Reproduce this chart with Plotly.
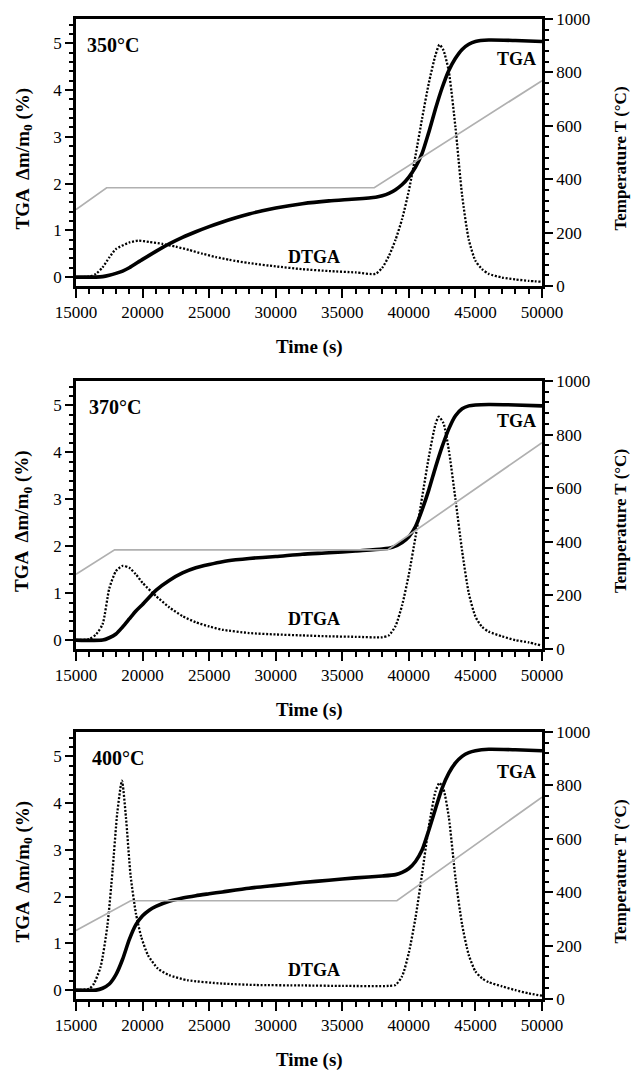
import plotly.graph_objects as go

# ---------------- data ----------------
panel_labels = ["350°C", "370°C", "400°C"]

p1_tga_t = [15000, 16500, 17000, 17500, 18000, 18500, 19000, 20000, 21000, 22000, 23000, 24000, 25000, 26000, 27000, 28000, 29000, 30000, 32000, 34000, 36000, 37500, 38000, 38500, 39000, 39500, 40000, 40500, 41000, 41500, 42000, 42500, 43000, 43500, 44000, 44500, 45000, 46000, 48000, 50000]
p1_tga_v = [0.0, 0.0, 0.01, 0.04, 0.08, 0.13, 0.2, 0.38, 0.55, 0.71, 0.85, 0.97, 1.08, 1.18, 1.27, 1.35, 1.42, 1.48, 1.57, 1.63, 1.67, 1.71, 1.74, 1.79, 1.87, 1.98, 2.14, 2.35, 2.65, 3.1, 3.6, 4.05, 4.42, 4.68, 4.87, 4.98, 5.04, 5.07, 5.06, 5.04]
p1_dtga_t = [15000, 16000, 16500, 17000, 17500, 18000, 19000, 19700, 20500, 21500, 22500, 23500, 24500, 25500, 26500, 28000, 30000, 32000, 34000, 36000, 37500, 38000, 38500, 39000, 39500, 40000, 40500, 41000, 41500, 42000, 42300, 42600, 43000, 43500, 44000, 44500, 45000, 45500, 46000, 47000, 48000, 49000, 50000]
p1_dtga_v = [0.0, 0.01, 0.07, 0.21, 0.42, 0.6, 0.74, 0.78, 0.75, 0.71, 0.65, 0.58, 0.5, 0.43, 0.37, 0.3, 0.23, 0.17, 0.13, 0.1, 0.07, 0.2, 0.45, 0.8, 1.25, 1.85, 2.6, 3.4, 4.15, 4.75, 4.97, 4.85, 4.4, 3.2, 1.75, 0.8, 0.35, 0.17, 0.07, -0.01, -0.05, -0.08, -0.1]
p1_temp_t = [15000, 17300, 37400, 50000]
p1_temp_v = [286, 368, 368, 769]

p2_tga_t = [15000, 17000, 17500, 18000, 18500, 19000, 19500, 20000, 21000, 22000, 23000, 24000, 25000, 26000, 27000, 28000, 30000, 32000, 34000, 36000, 38000, 38800, 39500, 40000, 40500, 41000, 41500, 42000, 42500, 43000, 43500, 44000, 44500, 45000, 46000, 48000, 50000]
p2_tga_v = [0.0, 0.0, 0.05, 0.13, 0.28, 0.45, 0.62, 0.76, 1.06, 1.27, 1.43, 1.54, 1.61, 1.67, 1.71, 1.74, 1.78, 1.83, 1.86, 1.9, 1.94, 1.98, 2.08, 2.2, 2.42, 2.78, 3.2, 3.68, 4.12, 4.5, 4.78, 4.93, 4.99, 5.01, 5.02, 5.01, 4.99]
p2_dtga_t = [15000, 16000, 16500, 17000, 17500, 18000, 18500, 19000, 19500, 20000, 21000, 22000, 23000, 24000, 25000, 26000, 28000, 30000, 32000, 34000, 36000, 38000, 38500, 39000, 39500, 40000, 40500, 41000, 41500, 42000, 42250, 42600, 43000, 43500, 44000, 44500, 45000, 45500, 46000, 47000, 48000, 49000, 50000]
p2_dtga_v = [0.0, 0.02, 0.12, 0.34, 1.1, 1.47, 1.58, 1.54, 1.4, 1.22, 0.94, 0.7, 0.51, 0.38, 0.29, 0.22, 0.15, 0.12, 0.1, 0.08, 0.07, 0.06, 0.1, 0.3, 0.75, 1.4, 2.2, 3.05, 3.9, 4.6, 4.76, 4.62, 4.05, 3.0, 1.9, 1.0, 0.5, 0.28, 0.18, 0.08, 0.0, -0.05, -0.12]
p2_temp_t = [15000, 17900, 38400, 50000]
p2_temp_v = [279, 370, 370, 770]

p3_tga_t = [15000, 16500, 17000, 17500, 18000, 18500, 19000, 19500, 20000, 20500, 21000, 22000, 23000, 24000, 25000, 26000, 28000, 30000, 32000, 34000, 36000, 38000, 39000, 39500, 40000, 40500, 41000, 41500, 42000, 42500, 43000, 43500, 44000, 44500, 45000, 46000, 48000, 50000]
p3_tga_v = [0.0, 0.0, 0.04, 0.13, 0.33, 0.66, 1.08, 1.4, 1.59, 1.71, 1.79, 1.9, 1.97, 2.02, 2.06, 2.1, 2.18, 2.24, 2.3, 2.35, 2.4, 2.44, 2.47, 2.52, 2.6, 2.75, 3.0, 3.42, 3.88, 4.32, 4.64, 4.86, 5.0, 5.08, 5.12, 5.15, 5.14, 5.12]
p3_dtga_t = [15000, 16000, 16350, 16850, 17350, 17750, 18100, 18450, 18750, 19100, 19500, 19900, 20400, 21150, 22000, 23400, 26000, 28500, 32000, 35000, 38500, 39000, 39500, 40000, 40500, 41000, 41500, 42000, 42300, 42600, 43000, 43500, 44000, 44500, 45000, 45500, 46000, 47000, 48000, 49000, 50000]
p3_dtga_v = [0.0, 0.03, 0.14, 0.5, 1.36, 2.57, 3.79, 4.48, 3.7, 2.45, 1.64, 1.14, 0.75, 0.46, 0.32, 0.21, 0.14, 0.11, 0.1, 0.09, 0.09, 0.11, 0.3, 0.8, 1.55, 2.5, 3.5, 4.25, 4.43, 4.3, 3.7, 2.4, 1.4, 0.75, 0.4, 0.25, 0.17, 0.08, 0.0, -0.07, -0.12]
p3_temp_t = [15000, 19100, 39100, 50000]
p3_temp_v = [257, 368, 368, 756]

x_ticks = [15000, 20000, 25000, 30000, 35000, 40000, 45000, 50000]
left_ticks = [0, 1, 2, 3, 4, 5]
right_ticks = [0, 200, 400, 600, 800, 1000]

panels = [
    (p1_tga_t, p1_tga_v, p1_dtga_t, p1_dtga_v, p1_temp_t, p1_temp_v),
    (p2_tga_t, p2_tga_v, p2_dtga_t, p2_dtga_v, p2_temp_t, p2_temp_v),
    (p3_tga_t, p3_tga_v, p3_dtga_t, p3_dtga_v, p3_temp_t, p3_temp_v),
]

# ---------------- layout ----------------
W, H = 632, 1070
x_dom = [76 / W, 542 / W]
panel_px = [(19, 286), (381, 649), (732, 999)]  # top, bottom in pixels
label_x = [15680, 15800, 16050]
FONT = "Liberation Serif"

fig = go.Figure()
layout = dict(
    template="none",
    width=W, height=H,
    margin=dict(l=0, r=0, t=0, b=0, pad=0),
    paper_bgcolor="white", plot_bgcolor="white",
    showlegend=False,
    font=dict(family=FONT, color="black", size=17),
)
annotations = []

for i, (tt, tv, dt, dv, mt, mv) in enumerate(panels):
    xa = "x" if i == 0 else f"x{i+1}"
    ya = f"y{2*i+1}" if i > 0 else "y"
    yb = f"y{2*i+2}"
    xkey = "xaxis" if i == 0 else f"xaxis{i+1}"
    ykey = "yaxis" if i == 0 else f"yaxis{2*i+1}"
    y2key = f"yaxis{2*i+2}"
    top, bot = panel_px[i]
    dom = [(H - bot) / H, (H - top) / H]

    fig.add_trace(go.Scatter(x=mt, y=mv, mode="lines", xaxis=xa, yaxis=yb,
                             line=dict(color="#b0b0b0", width=1.7)))
    fig.add_trace(go.Scatter(x=dt, y=dv, mode="lines", xaxis=xa, yaxis=ya,
                             line=dict(color="black", width=2.3, dash="2px,1.7px", shape="spline", smoothing=0.6)))
    fig.add_trace(go.Scatter(x=tt, y=tv, mode="lines", xaxis=xa, yaxis=ya,
                             line=dict(color="black", width=3.6, shape="spline", smoothing=0.6)))

    tick_common = dict(ticks="outside", tickwidth=2, tickcolor="black",
                       showline=True, linecolor="black", linewidth=2.6,
                       showgrid=False, zeroline=False, automargin=False,
                       tickfont=dict(family=FONT, size=17, color="black"))
    layout[xkey] = dict(
        domain=x_dom, anchor=ya, range=[15000, 50000],
        tickvals=x_ticks, ticktext=[str(v) for v in x_ticks], ticklen=9, mirror=True,
        minor=dict(dtick=1000, tick0=15000, ticks="outside", ticklen=5, tickwidth=1.6, tickcolor="black"),
        **tick_common,
    )
    layout[ykey] = dict(
        domain=dom, anchor=xa, range=[-0.19, 5.52],
        tickvals=left_ticks, ticklen=8,
        minor=dict(dtick=0.2, tick0=0, ticks="outside", ticklen=4, tickwidth=1.6, tickcolor="black"),
        **tick_common,
    )
    layout[y2key] = dict(
        domain=dom, anchor=xa, overlaying=ya, side="right", range=[0, 1000],
        tickvals=right_ticks, ticklen=8,
        minor=dict(dtick=40, tick0=0, ticks="outside", ticklen=4, tickwidth=1.6, tickcolor="black"),
        **tick_common,
    )

    # in-plot labels
    annotations.append(dict(x=label_x[i], y=4.96, xref=xa, yref=ya, text=panel_labels[i],
                            showarrow=False, xanchor="left", yanchor="middle",
                            font=dict(family=FONT, size=20, color="black", weight="bold")))
    annotations.append(dict(x=48120, y=4.67, xref=xa, yref=ya, text="TGA",
                            showarrow=False, xanchor="center", yanchor="middle",
                            font=dict(family=FONT, size=18, color="black", weight="bold")))
    annotations.append(dict(x=32900, y=0.44, xref=xa, yref=ya, text="DTGA",
                            showarrow=False, xanchor="center", yanchor="middle",
                            font=dict(family=FONT, size=18, color="black", weight="bold")))
    # axis titles
    mid_px = (top + bot) / 2 + 6
    annotations.append(dict(x=23 / W, y=(H - mid_px) / H, xref="paper", yref="paper",
                            text="TGA  Δm/m<sub>0</sub> (%)", textangle=-90,
                            showarrow=False, xanchor="center", yanchor="middle",
                            font=dict(family=FONT, size=19, color="black", weight="bold")))
    annotations.append(dict(x=620 / W, y=(H - mid_px) / H, xref="paper", yref="paper",
                            text="Temperature T (°C)", textangle=-90,
                            showarrow=False, xanchor="center", yanchor="middle",
                            font=dict(family=FONT, size=17, color="black", weight="bold")))
    annotations.append(dict(x=(x_dom[0] + x_dom[1]) / 2, y=(H - (bot + 61)) / H, xref="paper", yref="paper",
                            text="Time (s)",
                            showarrow=False, xanchor="center", yanchor="middle",
                            font=dict(family=FONT, size=19, color="black", weight="bold")))

layout["annotations"] = annotations
fig.update_layout(**layout)
fig.write_html("out.html", config={"displayModeBar": False},
               post_script="document.body.style.margin='0px';")
